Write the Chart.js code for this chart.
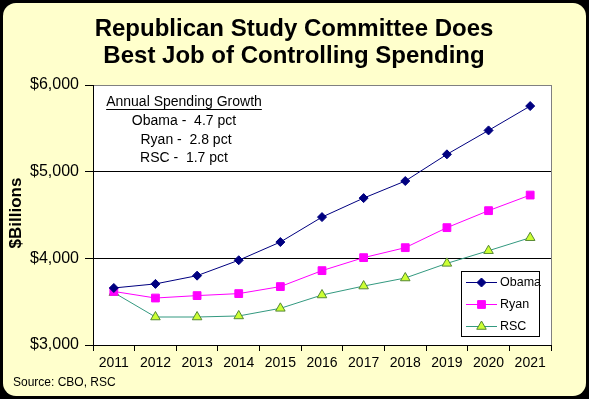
<!DOCTYPE html>
<html>
<head>
<meta charset="utf-8">
<script src="https://cdn.jsdelivr.net/npm/chart.js@4/dist/chart.umd.min.js"></script>
<style>
html,body{margin:0;padding:0;background:#000;}
canvas{display:block;}
</style>
</head>
<body>
<canvas id="c" width="589" height="399"></canvas>
<script>
const categories = ['2011','2012','2013','2014','2015','2016','2017','2018','2019','2020','2021'];
const obama = [3658, 3705, 3800, 3978, 4188, 4476, 4695, 4892, 5200, 5476, 5757];
const ryan  = [3618, 3542, 3570, 3593, 3674, 3858, 4008, 4123, 4354, 4550, 4730];
const rsc   = [3605, 3323, 3323, 3335, 3423, 3577, 3680, 3773, 3942, 4088, 4238];
const seriesNames = ['Obama', 'Ryan', 'RSC'];
const yTicks = [3000, 4000, 5000, 6000];
const titleLines = ['Republican Study Committee Does', 'Best Job of Controlling Spending'];
const noteLines = ['Annual Spending Growth', 'Obama -  4.7 pct', 'Ryan -  2.8 pct', 'RSC -  1.7 pct'];
const yTitle = '$Billions';
const sourceText = 'Source: CBO, RSC';

const FONT = '"Liberation Sans", Arial, sans-serif';

function drawMarker(ctx, ds, x, y) {
  ctx.save();
  ctx.fillStyle = ds.pointBackgroundColor;
  ctx.strokeStyle = ds.pointBorderColor;
  ctx.lineWidth = ds.pointBorderWidth;
  if (Chart.helpers && Chart.helpers.drawPoint) {
    Chart.helpers.drawPoint(ctx, {pointStyle: ds.pointStyle, radius: ds.pointRadius, borderWidth: ds.pointBorderWidth, rotation: 0}, x, y);
  } else {
    ctx.beginPath(); ctx.arc(x, y, ds.pointRadius, 0, Math.PI*2); ctx.fill(); ctx.stroke();
  }
  ctx.restore();
}

const decor = {
  id: 'decor',
  beforeDraw(chart) {
    const ctx = chart.ctx, a = chart.chartArea;
    ctx.save();
    ctx.fillStyle = '#000';
    ctx.fillRect(0, 0, chart.width, chart.height);
    ctx.fillStyle = '#FFFFCC';
    ctx.beginPath();
    if (ctx.roundRect) ctx.roundRect(3, 3, 583, 393, 13); else ctx.rect(3, 3, 583, 393);
    ctx.fill();
    ctx.fillStyle = '#FFFFFF';
    ctx.fillRect(a.left, a.top, a.right - a.left, a.bottom - a.top);
    ctx.strokeStyle = '#808080';
    ctx.lineWidth = 1;
    ctx.beginPath();
    ctx.moveTo(Math.round(a.right) + 0.5, a.top);
    ctx.lineTo(Math.round(a.right) + 0.5, a.bottom);
    ctx.stroke();
    ctx.restore();
  },
  afterDraw(chart) {
    const ctx = chart.ctx;
    ctx.save();
    ctx.fillStyle = '#000';
    // title
    ctx.font = 'bold 24px ' + FONT;
    ctx.textAlign = 'center';
    ctx.textBaseline = 'middle';
    ctx.fillText(titleLines[0], 294, 29);
    ctx.fillText(titleLines[1], 294, 56);
    // note
    ctx.font = '14px ' + FONT;
    ctx.fillText(noteLines[0], 184, 102);
    const w = ctx.measureText(noteLines[0]).width;
    ctx.strokeStyle = '#000';
    ctx.lineWidth = 1;
    ctx.beginPath();
    ctx.moveTo(184 - w/2, 109.5); ctx.lineTo(184 + w/2, 109.5); ctx.stroke();
    ctx.fillText(noteLines[1], 184, 121);
    ctx.fillText(noteLines[2], 186, 140);
    ctx.fillText(noteLines[3], 184, 158);
    // y title
    ctx.save();
    ctx.translate(16, 213);
    ctx.rotate(-Math.PI/2);
    ctx.font = 'bold 17px ' + FONT;
    ctx.fillText(yTitle, 0, 0);
    ctx.restore();
    // source
    ctx.textAlign = 'left';
    ctx.font = '12px ' + FONT;
    ctx.fillText(sourceText, 13, 383);
    // legend
    ctx.fillStyle = '#fff';
    ctx.fillRect(461, 271, 78, 65);
    ctx.strokeStyle = '#000';
    ctx.strokeRect(461.5, 271.5, 78, 65);
    const ys = [282, 304, 326];
    chart.data.datasets.forEach((ds, i) => {
      ctx.strokeStyle = ds.borderColor;
      ctx.lineWidth = 1;
      ctx.beginPath();
      ctx.moveTo(466, ys[i] + 0.5); ctx.lineTo(497, ys[i] + 0.5); ctx.stroke();
      drawMarker(ctx, ds, 481.5, ys[i] + 0.5);
      ctx.fillStyle = '#000';
      ctx.font = '12.5px ' + FONT;
      ctx.textAlign = 'left';
      ctx.textBaseline = 'middle';
      ctx.fillText(ds.label, 500, ys[i] + 1);
    });
    ctx.restore();
  }
};

new Chart(document.getElementById('c'), {
  type: 'line',
  data: {
    labels: categories,
    datasets: [
      {label: seriesNames[0], data: obama, borderColor: '#000080', borderWidth: 1,
       pointStyle: 'rectRot', pointRadius: 4.5, pointBackgroundColor: '#000080', pointBorderColor: '#000080', pointBorderWidth: 1, tension: 0},
      {label: seriesNames[1], data: ryan, borderColor: '#FF00FF', borderWidth: 1,
       pointStyle: 'rect', pointRadius: 5.5, pointBackgroundColor: '#FF00FF', pointBorderColor: '#FF00FF', pointBorderWidth: 1, tension: 0},
      {label: seriesNames[2], data: rsc, borderColor: '#339980', borderWidth: 1,
       pointStyle: 'triangle', pointRadius: 5.5, pointBackgroundColor: '#CCFF33', pointBorderColor: '#558833', pointBorderWidth: 1, tension: 0}
    ]
  },
  options: {
    responsive: false,
    animation: false,
    devicePixelRatio: 1,
    layout: {padding: {left: 5, top: 85, right: 38, bottom: 0}},
    plugins: {legend: {display: false}, title: {display: false}, tooltip: {enabled: false}},
    scales: {
      x: {
        offset: true,
        grid: {offset: true, drawOnChartArea: false, drawTicks: true, tickLength: 6, tickColor: '#000', color: '#000'},
        border: {color: '#000', width: 1},
        ticks: {color: '#000', font: {family: FONT, size: 14}, padding: 4, maxRotation: 0, autoSkip: false},
        afterFit: s => { s.height = 54; }
      },
      y: {
        min: yTicks[0], max: yTicks[yTicks.length - 1],
        afterBuildTicks: s => { s.ticks = yTicks.map(v => ({value: v})); },
        ticks: {color: '#000', font: {family: FONT, size: 16}, padding: 6,
                callback: v => '$' + Number(v).toLocaleString('en-US')},
        grid: {color: c => (c.tick && c.tick.value === 6000) ? '#808080' : '#000', tickColor: '#000', tickLength: 8},
        border: {color: '#000', width: 1},
        afterFit: s => { s.width = 88; }
      }
    }
  },
  plugins: [decor]
});
</script>
</body>
</html>
